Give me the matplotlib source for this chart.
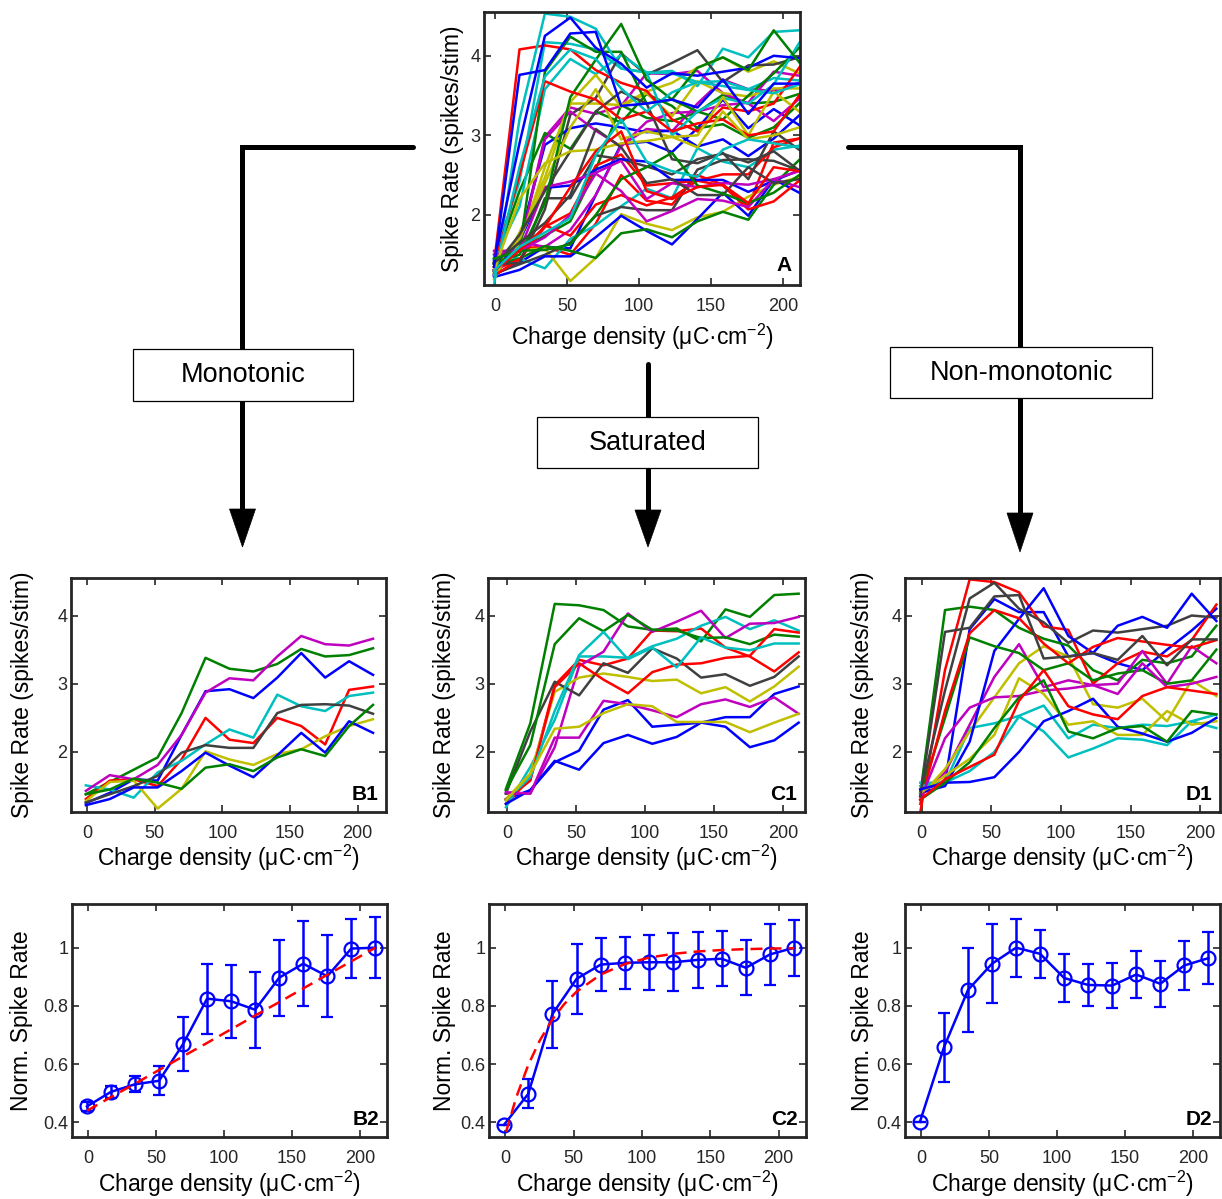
import matplotlib
matplotlib.use("Agg")
import matplotlib.pyplot as plt
from matplotlib.patches import Rectangle, Polygon

plt.rcParams['font.family'] = ['Liberation Sans', 'DejaVu Sans']
plt.rcParams['mathtext.default'] = 'regular'

# MATLAB-style colour order
COLORS = ['#0000ff', '#008000', '#ff0000', '#00bfbf', '#bf00bf', '#bfbf00', '#404040']

# charge density steps (uC/cm^2)
X = [-1, 16.7, 34.4, 52.1, 69.8, 87.5, 105.2, 122.9, 140.6, 158.3, 176.0, 193.7, 211.4]

# --- B1: monotonic units (spikes/stim) ---
MONO = [
    [1.25, 1.40, 1.60, 1.58, 2.25, 2.89, 2.92, 2.79, 3.09, 3.45, 3.09, 3.33, 3.13],
    [1.38, 1.56, 1.74, 1.92, 2.57, 3.38, 3.22, 3.18, 3.29, 3.51, 3.40, 3.42, 3.52],
    [1.31, 1.58, 1.60, 1.50, 1.89, 2.50, 2.18, 2.13, 2.50, 2.38, 2.11, 2.91, 2.96],
    [1.51, 1.45, 1.33, 1.70, 1.87, 2.11, 2.33, 2.21, 2.84, 2.67, 2.60, 2.82, 2.87],
    [1.43, 1.66, 1.60, 1.81, 2.25, 2.87, 3.08, 3.05, 3.40, 3.70, 3.58, 3.56, 3.66],
    [1.28, 1.56, 1.58, 1.17, 1.46, 2.01, 1.89, 1.81, 1.97, 2.04, 2.23, 2.38, 2.48],
    [1.26, 1.38, 1.50, 1.65, 1.99, 2.10, 2.06, 2.06, 2.57, 2.69, 2.70, 2.68, 2.56],
    [1.22, 1.31, 1.48, 1.48, 1.72, 1.99, 1.80, 1.63, 1.95, 2.28, 1.99, 2.45, 2.28],
    [1.38, 1.45, 1.61, 1.55, 1.46, 1.77, 1.82, 1.72, 1.92, 2.04, 1.94, 2.38, 2.69],
]

# --- C1: saturated units ---
SAT = [
    [1.31, 1.44, 1.85, 2.02, 2.62, 2.76, 2.37, 2.40, 2.43, 2.51, 2.51, 2.85, 2.96],
    [1.46, 2.42, 4.17, 4.15, 4.08, 3.84, 3.79, 3.81, 3.62, 4.09, 3.98, 4.30, 4.32],
    [1.24, 1.61, 2.98, 3.35, 3.27, 3.37, 3.78, 3.77, 3.81, 3.53, 3.40, 3.18, 3.46],
    [1.19, 1.78, 2.47, 3.40, 3.40, 3.38, 3.55, 3.66, 3.85, 3.98, 3.80, 3.93, 3.78],
    [1.39, 1.39, 2.07, 3.26, 3.47, 4.03, 3.76, 3.91, 4.07, 3.67, 3.88, 3.89, 3.98],
    [1.31, 1.68, 2.88, 3.09, 3.15, 3.10, 3.04, 3.06, 2.86, 2.95, 2.74, 2.96, 3.25],
    [1.39, 2.30, 3.03, 2.83, 3.30, 3.16, 3.52, 3.37, 3.09, 3.14, 2.97, 3.10, 3.40],
    [1.24, 1.44, 1.87, 1.74, 2.13, 2.25, 2.12, 2.22, 2.43, 2.37, 2.07, 2.17, 2.43],
    [1.44, 2.10, 3.58, 3.96, 3.77, 4.01, 3.79, 3.78, 3.67, 3.68, 3.58, 3.72, 3.69],
    [1.30, 1.58, 2.95, 3.30, 3.06, 2.86, 3.17, 3.28, 3.30, 3.38, 3.41, 3.80, 3.75],
    [1.29, 1.63, 2.60, 3.42, 3.76, 3.36, 3.53, 3.24, 3.68, 3.53, 3.49, 3.59, 3.59],
    [1.41, 1.39, 2.21, 2.21, 2.75, 2.70, 2.61, 2.51, 2.70, 2.77, 2.66, 2.80, 2.56],
    [1.29, 1.68, 2.34, 2.37, 2.57, 2.70, 2.67, 2.44, 2.44, 2.44, 2.29, 2.43, 2.56],
]

# --- D1: non-monotonic units ---
NONMONO = [
    [1.45, 1.55, 3.80, 4.24, 4.05, 4.05, 3.40, 3.45, 3.30, 3.20, 3.50, 3.78, 4.10],
    [1.39, 4.08, 4.13, 4.08, 3.82, 3.66, 3.56, 3.20, 3.05, 3.35, 3.30, 3.40, 3.85],
    [1.12, 3.20, 4.53, 4.49, 4.34, 3.84, 3.79, 3.00, 3.30, 3.47, 3.40, 3.64, 4.16],
    [1.55, 1.55, 2.35, 2.42, 2.53, 2.68, 2.20, 2.40, 2.35, 2.40, 2.38, 2.45, 2.55],
    [1.35, 1.70, 2.40, 3.10, 3.58, 2.95, 3.05, 2.98, 3.00, 3.48, 3.00, 3.55, 3.30],
    [1.35, 1.75, 2.30, 2.80, 3.30, 3.55, 3.40, 2.70, 2.65, 2.78, 2.45, 3.05, 2.82],
    [1.40, 2.90, 4.25, 4.48, 4.10, 3.90, 3.60, 3.78, 3.75, 3.80, 3.85, 4.00, 3.97],
    [1.40, 1.50, 2.15, 3.48, 3.95, 4.40, 3.70, 3.45, 3.85, 3.98, 3.82, 4.32, 3.92],
    [1.35, 2.50, 3.68, 3.55, 3.45, 3.20, 3.30, 3.05, 3.15, 3.20, 3.00, 3.05, 3.50],
    [1.24, 2.60, 3.74, 4.08, 3.96, 3.59, 3.30, 3.54, 3.67, 3.62, 3.57, 3.53, 3.64],
    [1.50, 1.55, 1.72, 2.00, 2.52, 2.30, 1.92, 2.05, 2.20, 2.18, 2.10, 2.45, 2.35],
    [1.30, 2.20, 2.65, 2.80, 2.82, 2.90, 2.93, 2.98, 2.85, 3.30, 2.95, 3.00, 3.10],
    [1.40, 1.65, 1.90, 2.25, 3.08, 2.85, 2.40, 2.45, 2.25, 2.25, 2.60, 2.40, 2.45],
    [1.35, 3.76, 3.82, 4.28, 4.30, 3.37, 3.40, 3.45, 3.35, 3.70, 3.27, 3.65, 3.65],
    [1.45, 1.55, 1.56, 1.63, 2.00, 2.45, 2.60, 2.78, 2.37, 2.27, 2.15, 2.28, 2.50],
    [1.30, 1.55, 1.85, 2.35, 2.80, 3.05, 2.30, 2.20, 2.35, 2.38, 2.15, 2.60, 2.55],
    [1.30, 1.60, 1.78, 1.96, 2.75, 3.20, 2.67, 2.55, 2.48, 2.82, 2.95, 2.90, 2.85],
]

# --- normalised population curves (mean +/- error) ---
B2_MEAN = [0.455, 0.505, 0.531, 0.543, 0.669, 0.825, 0.816, 0.787, 0.897, 0.945, 0.902, 0.997, 1.0]
B2_ERR = [0.015, 0.02, 0.027, 0.05, 0.093, 0.12, 0.125, 0.13, 0.13, 0.145, 0.14, 0.10, 0.105]
B2_FIT = [0.44, 0.487, 0.533, 0.58, 0.627, 0.673, 0.72, 0.767, 0.813, 0.86, 0.907, 0.953, 1.0]

C2_MEAN = [0.392, 0.498, 0.772, 0.893, 0.942, 0.948, 0.950, 0.950, 0.958, 0.962, 0.931, 0.977, 1.0]
C2_ERR = [0.0, 0.05, 0.115, 0.12, 0.09, 0.09, 0.095, 0.1, 0.097, 0.095, 0.095, 0.104, 0.096]
C2_FIT_X = [-3, 0, 8, 16.7, 25, 34.4, 43, 52.1, 69.8, 87.5, 105.2, 122.9, 140.6, 158.3, 176.0, 193.7, 211.4]
C2_FIT = [0.304, 0.36, 0.487, 0.597, 0.68, 0.754, 0.806, 0.849, 0.908, 0.944, 0.966, 0.979, 0.987,
          0.992, 0.995, 0.997, 0.998]

D2_MEAN = [0.402, 0.658, 0.855, 0.945, 1.0, 0.979, 0.896, 0.872, 0.870, 0.908, 0.876, 0.939, 0.964]
D2_ERR = [0.0, 0.118, 0.144, 0.135, 0.1, 0.083, 0.082, 0.072, 0.078, 0.082, 0.078, 0.084, 0.09]

XLABEL = 'Charge density (μC·cm$^{-2}$)'
W, H = 1222, 1199


def px_axes(fig, x0, y0, x1, y1):
    # axes from pixel box (top-left origin)
    return fig.add_axes([x0 / W, 1 - y1 / H, (x1 - x0) / W, (y1 - y0) / H])


def style(ax, label, ylabel, xlab_px, ylab_px):
    bb = ax.get_position()
    w_px, h_px = bb.width * W, bb.height * H
    ax.tick_params(direction='in', top=True, right=True, length=5, width=1.2,
                   labelsize=13, labelcolor='#262626', color='#262626')
    ax.tick_params(axis='y', pad=2.5)
    ax.tick_params(axis='x', pad=9.5)
    for s in ax.spines.values():
        s.set_linewidth(2)
        s.set_color('#262626')
    ax.set_xticks([0, 50, 100, 150, 200])
    ax.set_xlabel(XLABEL, fontsize=16.5, va='center')
    ax.set_ylabel(ylabel, fontsize=16.5, va='center')
    # label centres given as pixel distance from the spine
    ax.xaxis.set_label_coords(0.5, -xlab_px / h_px)
    ax.yaxis.set_label_coords(-ylab_px / w_px, 0.5)
    ax.text(0.975, 0.035, label, transform=ax.transAxes, ha='right', va='bottom',
            fontsize=15, fontweight='bold')


def spike_panel(ax, lines, xlim):
    for i, y in enumerate(lines):
        ax.plot(X, y, color=COLORS[i % 7], lw=1.8)
    ax.set_xlim(*xlim)
    ax.set_ylim(1.12, 4.55)
    ax.set_yticks([2, 3, 4])


def norm_panel(ax, mean, err):
    ax.errorbar(X, mean, yerr=err, color='#0000ff', marker='o', mfc='none', ms=10,
                mew=1.6, lw=1.8, elinewidth=1.8, capsize=4.5, capthick=1.8, zorder=2)
    ax.set_xlim(-12, 220)
    ax.set_ylim(0.35, 1.15)
    ax.set_yticks([0.4, 0.6, 0.8, 1.0])
    ax.set_yticklabels(['0.4', '0.6', '0.8', '1'])


fig = plt.figure(figsize=(W / 100, H / 100), dpi=100)

# panel A: all units
axA = px_axes(fig, 484, 12, 800, 285)
spike_panel(axA, MONO + SAT + NONMONO, (-8, 212))
style(axA, 'A', 'Spike Rate (spikes/stim)', 52, 32)

axB1 = px_axes(fig, 71, 578, 386, 812)
spike_panel(axB1, MONO, (-12, 221))
style(axB1, 'B1', 'Spike Rate (spikes/stim)', 46, 48)

axC1 = px_axes(fig, 488, 578, 805, 812)
spike_panel(axC1, SAT, (-14, 216))
style(axC1, 'C1', 'Spike Rate (spikes/stim)', 46, 43)

axD1 = px_axes(fig, 905, 578, 1220, 812)
spike_panel(axD1, NONMONO, (-12, 214))
style(axD1, 'D1', 'Spike Rate (spikes/stim)', 46, 43)

axB2 = px_axes(fig, 72, 904, 387, 1137)
norm_panel(axB2, B2_MEAN, B2_ERR)
axB2.plot(X, B2_FIT, color='#ff0000', lw=1.8, dashes=(4.8, 2.8), zorder=3)
style(axB2, 'B2', 'Norm. Spike Rate', 47, 50)

axC2 = px_axes(fig, 489, 904, 806, 1137)
norm_panel(axC2, C2_MEAN, C2_ERR)
axC2.plot(C2_FIT_X, C2_FIT, color='#ff0000', lw=1.8, dashes=(4.8, 2.8), zorder=3)
style(axC2, 'C2', 'Norm. Spike Rate', 47, 44)

axD2 = px_axes(fig, 905, 904, 1220, 1137)
norm_panel(axD2, D2_MEAN, D2_ERR)
style(axD2, 'D2', 'Norm. Spike Rate', 47, 43)

# flow-chart overlay in pixel coordinates
ov = fig.add_axes([0, 0, 1, 1], zorder=-1)
ov.set_xlim(0, W)
ov.set_ylim(H, 0)
ov.axis('off')

arrow_kw = dict(color='black', lw=3.6, solid_capstyle='round', solid_joinstyle='miter')
ov.plot([413, 242, 242], [147, 147, 512], **arrow_kw)
ov.plot([648, 648], [364, 512], **arrow_kw)
ov.plot([848, 1020, 1020], [147, 147, 515], **arrow_kw)
for cx, top, tip in [(242.5, 509, 547), (648, 510, 547), (1020, 513, 552)]:
    ov.add_patch(Polygon([(cx - 13, top), (cx + 13, top), (cx, tip)], closed=True,
                         facecolor='black', edgecolor='black', lw=0.5))

boxes = [('Monotonic', 133, 349, 353, 401),
         ('Saturated', 537, 417, 758, 468),
         ('Non-monotonic', 890, 347, 1152, 398)]
for txt, x0, y0, x1, y1 in boxes:
    ov.add_patch(Rectangle((x0, y0), x1 - x0, y1 - y0, facecolor='white',
                           edgecolor='black', lw=0.9, zorder=3))
    ov.text((x0 + x1) / 2, (y0 + y1) / 2, txt, ha='center', va='center',
            fontsize=19.5, zorder=4)

fig.savefig('out.png', dpi=100)
